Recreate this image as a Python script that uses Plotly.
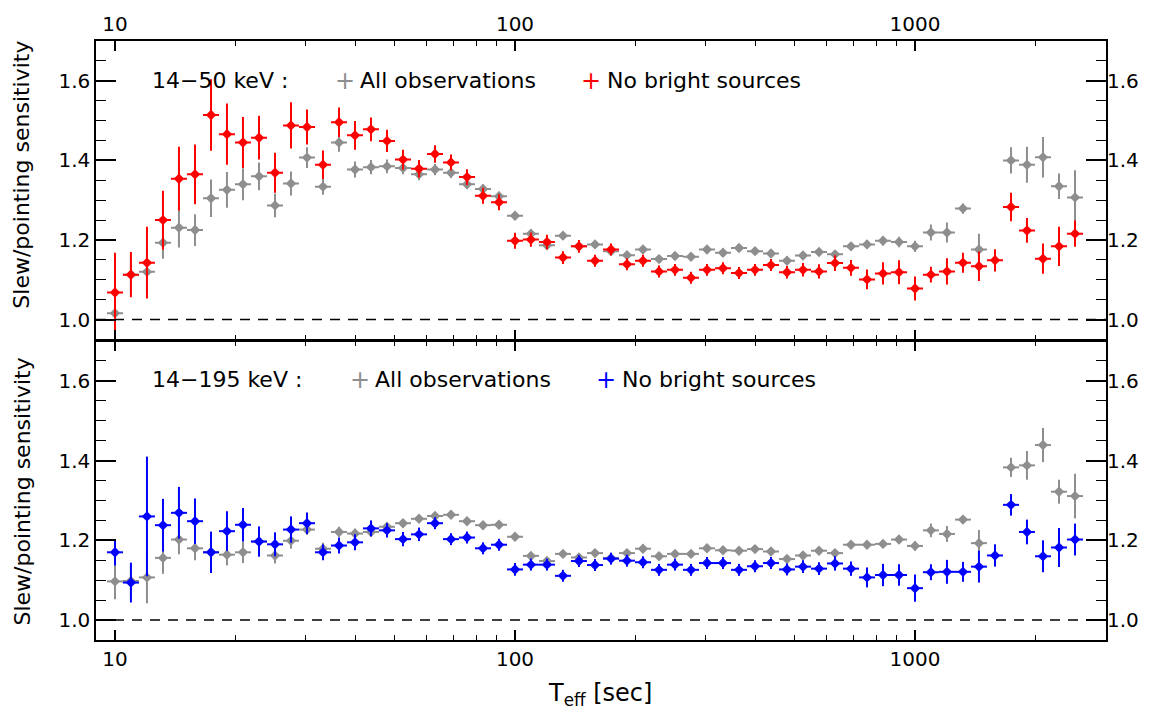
import plotly.graph_objects as go

# ---- data ----
T_eff = [10.0, 10.96, 12.02, 13.18, 14.45, 15.85, 17.38, 19.05, 20.89, 22.91,
         25.12, 27.54, 30.20, 33.11, 36.31, 39.81, 43.65, 47.86, 52.48, 57.54,
         63.10, 69.18, 75.86, 83.18, 91.20, 100.0, 109.6, 120.2, 131.8, 144.5,
         158.5, 173.8, 190.5, 208.9, 229.1, 251.2, 275.4, 302.0, 331.1, 363.1,
         398.1, 436.5, 478.6, 524.8, 575.4, 631.0, 691.8, 758.6, 831.8, 912.0,
         1000.0, 1096.0, 1202.0, 1318.0, 1445.0, 1585.0, 1738.0, 1905.0, 2089.0, 2291.0, 2512.0]

soft_all = [1.016, 1.113, 1.120, 1.193, 1.231, 1.225, 1.305, 1.326, 1.340, 1.360,
            1.287, 1.342, 1.407, 1.334, 1.445, 1.377, 1.383, 1.385, 1.381, 1.365,
            1.377, 1.369, 1.340, 1.328, 1.310, 1.261, 1.216, 1.187, 1.211, 1.184,
            1.189, 1.172, 1.162, 1.176, 1.152, 1.160, 1.158, 1.176, 1.168, 1.180,
            1.172, 1.166, 1.148, 1.161, 1.170, 1.164, 1.184, 1.189, 1.198, 1.195,
            1.184, 1.219, 1.219, 1.279, 1.176, None, 1.400, 1.389, 1.408, 1.335, 1.307]
soft_all_err = [0.05, 0.05, 0.055, 0.04, 0.05, 0.04, 0.047, 0.045, 0.04, 0.035,
                0.03, 0.03, 0.026, 0.02, 0.023, 0.02, 0.018, 0.017, 0.016, 0.015,
                0.014, 0.013, 0.012, 0.012, 0.011, 0.01, 0.01, 0.01, 0.01, 0.009,
                0.009, 0.009, 0.009, 0.009, 0.009, 0.009, 0.009, 0.009, 0.009, 0.009,
                0.009, 0.009, 0.01, 0.01, 0.01, 0.01, 0.01, 0.011, 0.012, 0.013,
                0.014, 0.02, 0.025, 0.013, 0.04, 0.0, 0.033, 0.045, 0.051, 0.032, 0.068]

soft_nb = [1.068, 1.113, 1.143, 1.250, 1.354, 1.365, 1.514, 1.466, 1.445, 1.457,
           1.369, 1.488, 1.484, 1.389, 1.496, 1.463, 1.478, 1.449, 1.402, 1.379,
           1.416, 1.395, 1.358, 1.311, 1.295, 1.198, 1.201, 1.195, 1.156, 1.184,
           1.148, 1.176, 1.139, 1.148, 1.121, 1.125, 1.105, 1.125, 1.129, 1.117,
           1.125, 1.137, 1.119, 1.125, 1.121, 1.142, 1.130, 1.101, 1.116, 1.119,
           1.078, 1.113, 1.121, 1.143, 1.134, 1.149, 1.283, 1.224, 1.153, 1.184, 1.216]
soft_nb_err = [0.1, 0.057, 0.09, 0.074, 0.08, 0.075, 0.09, 0.077, 0.064, 0.055,
               0.05, 0.058, 0.044, 0.036, 0.037, 0.036, 0.03, 0.028, 0.025, 0.022,
               0.022, 0.02, 0.02, 0.02, 0.02, 0.02, 0.018, 0.018, 0.016, 0.016,
               0.015, 0.015, 0.015, 0.015, 0.015, 0.015, 0.015, 0.015, 0.015, 0.015,
               0.015, 0.015, 0.016, 0.017, 0.018, 0.02, 0.02, 0.025, 0.028, 0.03,
               0.03, 0.02, 0.033, 0.025, 0.037, 0.028, 0.036, 0.031, 0.038, 0.049, 0.033]

hard_all = [1.097, 1.098, 1.107, 1.156, 1.202, 1.180, 1.170, 1.164, 1.170, 1.197,
            1.162, 1.199, 1.227, 1.179, 1.221, 1.217, 1.221, 1.234, 1.243, 1.254,
            1.261, 1.264, 1.248, 1.238, 1.239, 1.209, 1.161, 1.148, 1.166, 1.157,
            1.168, 1.156, 1.168, 1.179, 1.160, 1.166, 1.166, 1.180, 1.175, 1.174,
            1.178, 1.172, 1.153, 1.162, 1.174, 1.168, 1.189, 1.189, 1.191, 1.202,
            1.186, 1.225, 1.216, 1.252, 1.193, None, 1.383, 1.388, 1.439, 1.322, 1.311]
hard_all_err = [0.045, 0.04, 0.065, 0.04, 0.037, 0.03, 0.03, 0.027, 0.027, 0.025,
                0.02, 0.02, 0.013, 0.015, 0.013, 0.012, 0.011, 0.01, 0.01, 0.009,
                0.009, 0.008, 0.008, 0.008, 0.008, 0.008, 0.008, 0.008, 0.008, 0.008,
                0.008, 0.008, 0.008, 0.008, 0.008, 0.008, 0.008, 0.008, 0.008, 0.008,
                0.008, 0.008, 0.008, 0.008, 0.008, 0.008, 0.009, 0.01, 0.01, 0.011,
                0.012, 0.017, 0.02, 0.01, 0.033, 0.0, 0.024, 0.036, 0.043, 0.03, 0.056]

hard_nb = [1.170, 1.094, 1.260, 1.238, 1.269, 1.248, 1.170, 1.223, 1.239, 1.197,
           1.190, 1.227, 1.243, 1.170, 1.187, 1.195, 1.230, 1.225, 1.203, 1.215,
           1.243, 1.203, 1.207, 1.180, 1.189, 1.127, 1.139, 1.139, 1.111, 1.148,
           1.138, 1.154, 1.149, 1.145, 1.126, 1.139, 1.126, 1.143, 1.143, 1.126,
           1.135, 1.143, 1.127, 1.134, 1.129, 1.142, 1.129, 1.107, 1.113, 1.113,
           1.080, 1.120, 1.121, 1.121, 1.134, 1.162, 1.289, 1.221, 1.160, 1.182, 1.202]
hard_nb_err = [0.033, 0.05, 0.15, 0.066, 0.065, 0.057, 0.052, 0.05, 0.042, 0.038,
               0.03, 0.033, 0.027, 0.02, 0.02, 0.02, 0.02, 0.018, 0.018, 0.017,
               0.015, 0.015, 0.015, 0.015, 0.015, 0.016, 0.015, 0.015, 0.015, 0.015,
               0.015, 0.015, 0.015, 0.015, 0.015, 0.015, 0.015, 0.015, 0.015, 0.015,
               0.015, 0.015, 0.015, 0.016, 0.016, 0.018, 0.018, 0.025, 0.028, 0.027,
               0.034, 0.02, 0.03, 0.025, 0.04, 0.028, 0.027, 0.031, 0.04, 0.049, 0.04]

x_ticks = [10, 100, 1000]
x_tick_labels = ["10", "100", "1000"]
y_ticks = [1.0, 1.2, 1.4, 1.6]
y_tick_labels = ["1.0", "1.2", "1.4", "1.6"]

GRAY = "#8e8e8e"
RED = "#ff0000"
BLUE = "#0000ff"
FONT = "DejaVu Sans"

half_bin = 0.02  # dex
xe_plus = [t * (10 ** half_bin - 1) for t in T_eff]
xe_minus = [t * (1 - 10 ** -half_bin) for t in T_eff]


def series(y, err, color, xa, ya):
    return go.Scatter(
        x=T_eff, y=y, xaxis=xa, yaxis=ya, mode="markers",
        marker=dict(symbol="diamond", size=8, color=color),
        error_y=dict(type="data", array=err, color=color, thickness=2, width=0),
        error_x=dict(type="data", symmetric=False, array=xe_plus, arrayminus=xe_minus,
                     color=color, thickness=2, width=0),
        showlegend=False, hoverinfo="x+y")


fig = go.Figure()
fig.add_trace(series(soft_all, soft_all_err, GRAY, "x", "y"))
fig.add_trace(series(soft_nb, soft_nb_err, RED, "x", "y"))
fig.add_trace(series(hard_all, hard_all_err, GRAY, "x2", "y2"))
fig.add_trace(series(hard_nb, hard_nb_err, BLUE, "x2", "y2"))
# invisible traces to activate right-side axes
fig.add_trace(go.Scatter(x=T_eff, y=soft_all, xaxis="x", yaxis="y3", mode="markers",
                         marker=dict(opacity=0), showlegend=False, hoverinfo="skip"))
fig.add_trace(go.Scatter(x=T_eff, y=hard_all, xaxis="x2", yaxis="y4", mode="markers",
                         marker=dict(opacity=0), showlegend=False, hoverinfo="skip"))

xminor = [20, 30, 40, 50, 60, 70, 80, 90, 200, 300, 400, 500, 600, 700, 800, 900, 2000]
yminor = [1.0, 1.05, 1.1, 1.15, 1.2, 1.25, 1.3, 1.35, 1.4, 1.45, 1.5, 1.55, 1.6, 1.65]
xrange_log = [0.9525, 3.4775]
yrange = [0.95, 1.7]
tickfont = dict(family=FONT, size=20, color="black")

xcommon = dict(type="log", range=xrange_log, tickmode="array", tickvals=x_ticks,
               ticktext=x_tick_labels, ticks="inside", ticklen=10, tickwidth=1.5,
               tickcolor="black", mirror="ticks", showline=True, linecolor="black",
               linewidth=1.5, showgrid=False, zeroline=False, tickfont=tickfont,
               minor=dict(tickvals=xminor, ticks="inside", ticklen=5, tickwidth=1.2,
                          tickcolor="black", showgrid=False))
ycommon = dict(range=yrange, tickmode="array", tickvals=y_ticks, ticktext=y_tick_labels,
               ticks="inside", ticklen=20, tickwidth=1.5, tickcolor="black",
               mirror="ticks", showline=True, linecolor="black", linewidth=1.5,
               showgrid=False, zeroline=False, tickfont=tickfont,
               minor=dict(tickvals=yminor, ticks="inside", ticklen=10, tickwidth=1.2,
                          tickcolor="black", showgrid=False))
yright = dict(range=yrange, tickmode="array", tickvals=y_ticks, ticktext=y_tick_labels,
              ticks="", showline=False, showgrid=False, zeroline=False,
              tickfont=tickfont, side="right")

split_bottom = 302.0 / 605.0
split_top = 303.5 / 605.0  # small offset so the two boundary lines coincide
fig.update_layout(
    width=1157, height=717,
    margin=dict(l=96, r=51, t=35, b=77),
    paper_bgcolor="white", plot_bgcolor="rgba(0,0,0,0)",
    font=dict(family=FONT, size=20, color="black"),
    xaxis=dict(xcommon, domain=[0, 1], anchor="y", side="top", matches="x2"),
    xaxis2=dict(xcommon, domain=[0, 1], anchor="y2", side="bottom"),
    yaxis=dict(ycommon, domain=[split_top, 1], anchor="x"),
    yaxis2=dict(ycommon, domain=[0, split_bottom], anchor="x2"),
    yaxis3=dict(yright, overlaying="y", anchor="x"),
    yaxis4=dict(yright, overlaying="y2", anchor="x2"),
    showlegend=False,
)

# dashed reference lines at 1.0
for yr, xr in (("y", "x"), ("y2", "x2")):
    fig.add_shape(type="line", xref=xr + " domain", yref=yr, x0=0, x1=1, y0=1.0, y1=1.0,
                  line=dict(color="black", width=1.5, dash="10px,8px"), layer="below")


def px_x(p):
    return (p - 96) / 1010.0


def px_y(p):
    return (640 - p) / 605.0


anns = [
    ("14\u221250 keV :", 150, 75, "black", "left", 22),
    ("+", 345, 75, GRAY, "center", 24),
    ("All observations", 358, 75, "black", "left", 22),
    ("+", 591, 75, RED, "center", 24),
    ("No bright sources", 605, 75, "black", "left", 22),
    ("14\u2212195 keV :", 150, 377, "black", "left", 22),
    ("+", 360, 377, GRAY, "center", 24),
    ("All observations", 373, 377, "black", "left", 22),
    ("+", 606, 377, BLUE, "center", 24),
    ("No bright sources", 620, 377, "black", "left", 22),
]
for text, xp, yp, col, anc, sz in anns:
    fig.add_annotation(text=text, x=px_x(xp), y=px_y(yp), xref="paper", yref="paper",
                       xanchor=anc, yanchor="middle", showarrow=False,
                       font=dict(family=FONT, size=sz, color=col))

for yp in (170, 490):
    fig.add_annotation(text="Slew/pointing sensitivity", x=px_x(22), y=px_y(yp),
                       xref="paper", yref="paper", textangle=-90, showarrow=False,
                       xanchor="center", yanchor="middle",
                       font=dict(family=FONT, size=22, color="black"))

fig.add_annotation(
    text="T<sub>eff</sub> [sec]",
    x=px_x(600), y=px_y(695), xref="paper", yref="paper", showarrow=False,
    xanchor="center", yanchor="middle", font=dict(family=FONT, size=24, color="black"))

fig.write_html("out.html")
